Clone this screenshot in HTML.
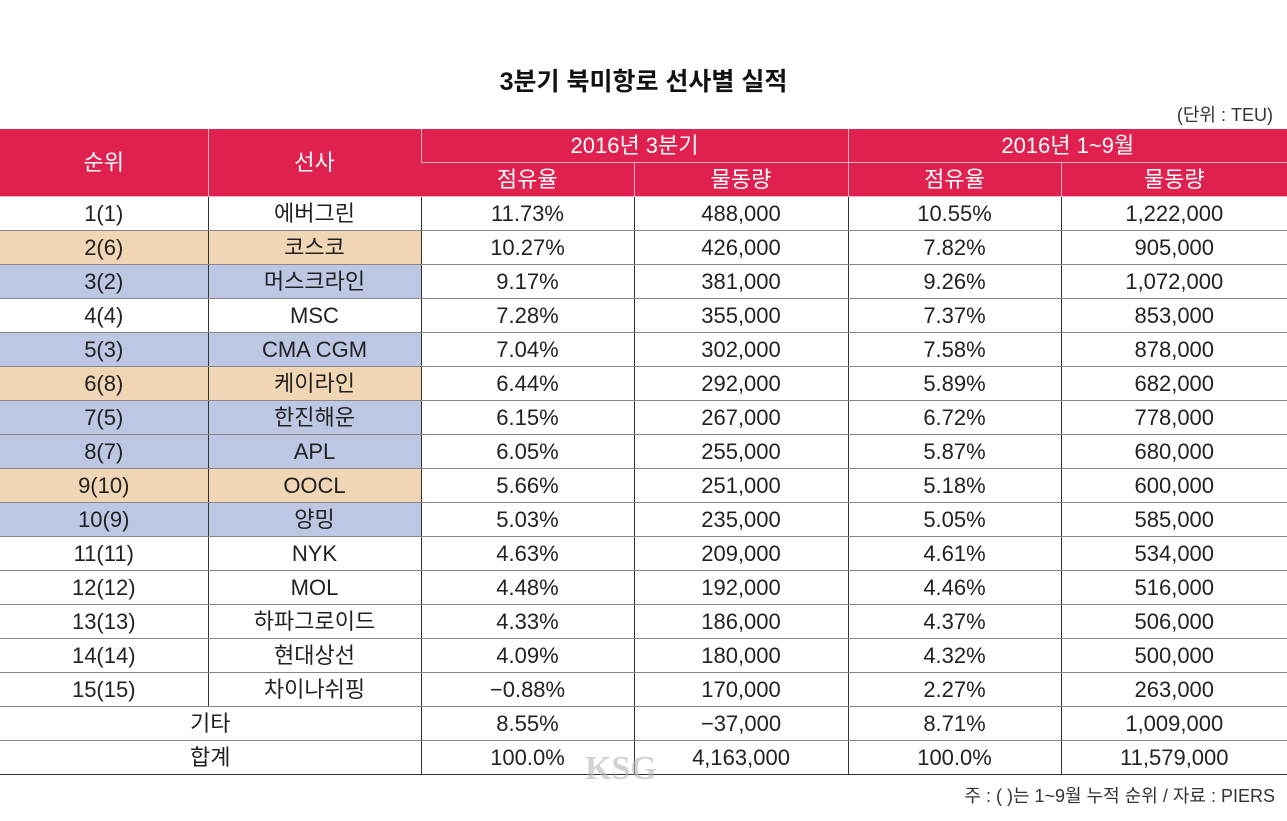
<!DOCTYPE html>
<html><head><meta charset="utf-8"><style>
body{margin:0;width:1287px;height:821px;background:#fff;font-family:"Liberation Sans","Noto Sans CJK KR",sans-serif;position:relative;overflow:hidden;color:#222}
.title{position:absolute;top:62px;left:0;width:1287px;text-align:center;font-size:25px;font-weight:bold;color:#111}
.unit{position:absolute;top:101px;right:14px;font-size:18px;color:#333}
table{position:absolute;top:129px;left:0;border-collapse:collapse;table-layout:fixed;width:1287px}
td{height:33px;padding:0;text-align:center;font-size:22px;border-left:1.5px solid #333;border-bottom:1.5px solid #888;line-height:33px;white-space:nowrap}
tr td:first-child{border-left:none}
.h td{background:#e0204f;color:#fff;border-left:1.5px solid #f3b0c0;border-bottom:1.5px solid #f3b0c0;height:33px}
.o{background:#f1d6b6}.b{background:#bdc7e4}
.last td{border-bottom:1.5px solid #333}
.note{position:absolute;top:782px;right:12px;font-size:18px;color:#333}
.wm{position:absolute;left:585px;top:750px;font-size:34px;font-weight:bold;color:rgba(180,180,180,0.6);font-family:"Liberation Serif",serif}
</style></head><body>
<div class="title">3분기 북미항로 선사별 실적</div>
<div class="unit">(단위 : TEU)</div>
<table>
<colgroup><col style="width:208px"><col style="width:213px"><col style="width:213px"><col style="width:214px"><col style="width:213px"><col style="width:226px"></colgroup>
<tr class="h"><td rowspan="2">순위</td><td rowspan="2">선사</td><td colspan="2">2016년 3분기</td><td colspan="2">2016년 1~9월</td></tr>
<tr class="h"><td>점유율</td><td>물동량</td><td>점유율</td><td>물동량</td></tr>
<tr><td>1(1)</td><td>에버그린</td><td>11.73%</td><td>488,000</td><td>10.55%</td><td>1,222,000</td></tr>
<tr><td class="o">2(6)</td><td class="o">코스코</td><td>10.27%</td><td>426,000</td><td>7.82%</td><td>905,000</td></tr>
<tr><td class="b">3(2)</td><td class="b">머스크라인</td><td>9.17%</td><td>381,000</td><td>9.26%</td><td>1,072,000</td></tr>
<tr><td>4(4)</td><td>MSC</td><td>7.28%</td><td>355,000</td><td>7.37%</td><td>853,000</td></tr>
<tr><td class="b">5(3)</td><td class="b">CMA CGM</td><td>7.04%</td><td>302,000</td><td>7.58%</td><td>878,000</td></tr>
<tr><td class="o">6(8)</td><td class="o">케이라인</td><td>6.44%</td><td>292,000</td><td>5.89%</td><td>682,000</td></tr>
<tr><td class="b">7(5)</td><td class="b">한진해운</td><td>6.15%</td><td>267,000</td><td>6.72%</td><td>778,000</td></tr>
<tr><td class="b">8(7)</td><td class="b">APL</td><td>6.05%</td><td>255,000</td><td>5.87%</td><td>680,000</td></tr>
<tr><td class="o">9(10)</td><td class="o">OOCL</td><td>5.66%</td><td>251,000</td><td>5.18%</td><td>600,000</td></tr>
<tr><td class="b">10(9)</td><td class="b">양밍</td><td>5.03%</td><td>235,000</td><td>5.05%</td><td>585,000</td></tr>
<tr><td>11(11)</td><td>NYK</td><td>4.63%</td><td>209,000</td><td>4.61%</td><td>534,000</td></tr>
<tr><td>12(12)</td><td>MOL</td><td>4.48%</td><td>192,000</td><td>4.46%</td><td>516,000</td></tr>
<tr><td>13(13)</td><td>하파그로이드</td><td>4.33%</td><td>186,000</td><td>4.37%</td><td>506,000</td></tr>
<tr><td>14(14)</td><td>현대상선</td><td>4.09%</td><td>180,000</td><td>4.32%</td><td>500,000</td></tr>
<tr><td>15(15)</td><td>차이나쉬핑</td><td>−0.88%</td><td>170,000</td><td>2.27%</td><td>263,000</td></tr>
<tr><td colspan="2">기타</td><td>8.55%</td><td>−37,000</td><td>8.71%</td><td>1,009,000</td></tr>
<tr class="last"><td colspan="2">합계</td><td>100.0%</td><td>4,163,000</td><td>100.0%</td><td>11,579,000</td></tr>
</table>
<div class="wm">KSG</div>
<div class="note">주 : ( )는 1~9월 누적 순위 / 자료 : PIERS</div>
</body></html>
